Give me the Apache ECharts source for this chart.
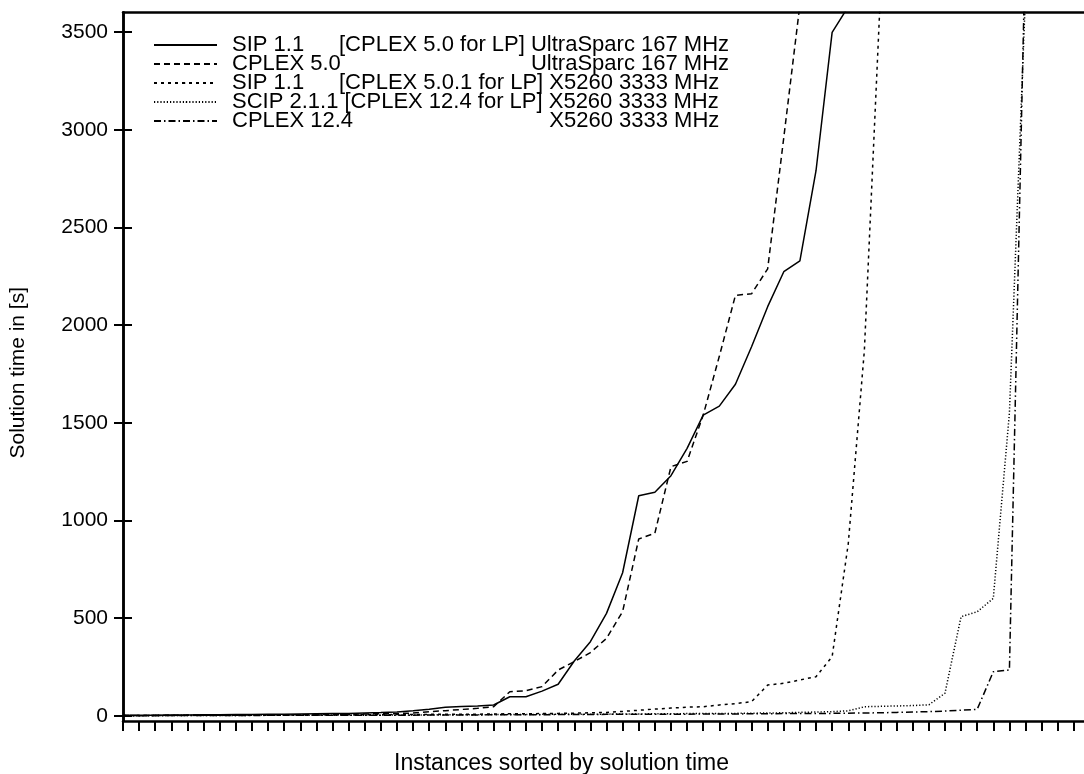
<!DOCTYPE html>
<html>
<head>
<meta charset="utf-8">
<title>Solution times</title>
<script src="https://cdn.jsdelivr.net/npm/echarts@6/dist/echarts.min.js"></script>
<style>
  html, body { margin: 0; padding: 0; background: #fff; }
  #chart { width: 1084px; height: 774px; }
</style>
</head>
<body>
<div id="chart"></div>
<script>
// solution time in seconds, instance index = position in array (each run sorted on its own)
// last value of each run is past the time limit, it only gets clipped at the top
const sip11Ultra = [2, 3, 3, 4, 4, 5, 5, 6, 6, 7, 8, 9, 10, 11, 12, 14, 16, 19, 25, 33,
  43, 47, 50, 55, 97, 97, 126, 161, 280, 379, 524, 732, 1126, 1144, 1229, 1369, 1539, 1585, 1697, 1889,
  2094, 2273, 2329, 2790, 3498, 3630]
const cplex50Ultra = [1, 1, 2, 2, 2, 3, 3, 3, 4, 4, 5, 5, 6, 7, 8, 9, 10, 11, 14, 20,
  26, 32, 38, 46, 123, 128, 149, 234, 277, 323, 396, 533, 905, 934, 1275, 1302, 1539, 1840, 2152, 2160,
  2288, 2960, 3640]
const sip11X5260 = [1, 1, 1, 1, 2, 2, 2, 2, 3, 3, 3, 4, 4, 4, 5, 5, 5, 6, 6, 7,
  7, 8, 8, 9, 10, 10, 11, 12, 13, 15, 17, 22, 28, 34, 39, 44, 46, 55, 62, 72,
  157, 166, 183, 200, 302, 880, 1870, 3700]
const scip211X5260 = [0, 0, 1, 1, 1, 1, 1, 1, 2, 2, 2, 2, 2, 3, 3, 3, 3, 4, 4, 4,
  5, 5, 5, 6, 6, 6, 7, 7, 7, 8, 8, 9, 9, 10, 10, 11, 11, 12, 12, 13,
  14, 15, 17, 19, 21, 25, 46, 48, 50, 52, 56, 115, 507, 532, 601, 1550, 3700]
const cplex124X5260 = [0, 0, 0, 1, 1, 1, 1, 1, 1, 2, 2, 2, 2, 2, 3, 3, 3, 3, 3, 4,
  4, 4, 4, 5, 5, 5, 5, 6, 6, 6, 7, 7, 7, 8, 8, 8, 9, 9, 9, 10,
  10, 11, 11, 12, 12, 13, 14, 15, 17, 19, 21, 24, 28, 33, 225, 234, 4000]

const yTicks = [0, 500, 1000, 1500, 2000, 2500, 3000, 3500]

// key text: solver part and machine part
const keyLeft = ['SIP 1.1', 'CPLEX 5.0', 'SIP 1.1', 'SCIP 2.1.1', 'CPLEX 12.4']
const keyRight = [
  '[CPLEX 5.0 for LP] UltraSparc 167 MHz',
  'UltraSparc 167 MHz',
  '[CPLEX 5.0.1 for LP] X5260 3333 MHz',
  '[CPLEX 12.4 for LP] X5260 3333 MHz',
  'X5260 3333 MHz'
]
const runs = [sip11Ultra, cplex50Ultra, sip11X5260, scip211X5260, cplex124X5260]
const dashes = ['solid', [6, 4], [3, 4], [1.2, 2], [7, 3, 1.5, 3]]

const FONT = 'Liberation Sans'
const FS = 22   // key
const TFS = 21  // tick labels + y name

// measure text so the machine column lines up like in gnuplot
const ctx = document.createElement('canvas').getContext('2d')
ctx.font = FS + 'px "' + FONT + '"'
const tw = s => ctx.measureText(s).width
const colW = 107
const leftW = i => (i === 3 ? tw(keyLeft[3] + ' ') : colW)
const fullW = [
  colW + tw(keyRight[0]),
  colW + tw(keyRight[0]),
  colW + tw(keyRight[2]),
  leftW(3) + tw(keyRight[3]),
  colW + tw(keyRight[2])
]

const names = keyLeft.map((l, i) => l + ' ' + keyRight[i])

// per-row rich styles: fixed solver column, machine column right aligned
const rich = {}
keyLeft.forEach((l, i) => {
  rich['a' + i] = { fontFamily: FONT, fontSize: FS, color: '#000', lineHeight: 18, width: leftW(i), padding: [0, 0, 0, 10] }
  rich['r' + i] = { fontFamily: FONT, fontSize: FS, color: '#000', lineHeight: 18, width: fullW[i] - leftW(i), align: 'right' }
})

const chart = echarts.init(document.getElementById('chart'))

const xBase = {
  type: 'value', min: 0, max: 60, interval: 1,
  axisLabel: { show: false },
  splitLine: { show: false }
}
const yBase = {
  type: 'value', min: -27, max: 3600,
  splitLine: { show: false },
  axisLine: { show: true, lineStyle: { color: '#000', width: 2.5 } },
  axisTick: { show: true, inside: true, length: 9, customValues: yTicks, lineStyle: { color: '#000', width: 2 } }
}

chart.setOption({
  animation: false,
  backgroundColor: '#fff',
  textStyle: { fontFamily: FONT },
  // plot box is fixed, the right edge runs past the window like in the cropped original
  grid: { left: 123, top: 12.5, width: 967, height: 708.5, outerBoundsMode: 'none' },
  xAxis: [
    Object.assign({}, xBase, {
      position: 'bottom',
      name: 'Instances sorted by solution time',
      nameLocation: 'middle',
      nameGap: 31,
      nameTextStyle: { fontSize: 23, color: '#000', fontFamily: FONT, padding: [0, 90, 0, 0] },
      axisLine: { show: true, onZero: false, lineStyle: { color: '#000', width: 2.5 } },
      axisTick: { show: true, inside: false, length: 10, lineStyle: { color: '#000', width: 2 } }
    }),
    Object.assign({}, xBase, {
      position: 'top',
      axisLine: { show: true, onZero: false, lineStyle: { color: '#000', width: 2.5 } },
      axisTick: { show: false }
    })
  ],
  yAxis: [
    Object.assign({}, yBase, {
      position: 'left',
      name: 'Solution time in [s]',
      nameLocation: 'middle',
      nameGap: 94,
      nameTextStyle: { fontSize: TFS, color: '#000', fontFamily: FONT, padding: [0, 12, 0, 0] },
      axisLabel: {
        show: true, customValues: yTicks, margin: 15, fontSize: TFS, color: '#000', fontFamily: FONT,
        formatter: v => String(v)
      }
    }),
    Object.assign({}, yBase, {
      position: 'right',
      axisLabel: { show: false }
    })
  ],
  legend: {
    orient: 'vertical',
    left: 148,
    top: 29,
    itemWidth: 63,
    itemHeight: 1,   // keeps the circle marker of line icons invisible
    itemGap: -3,
    selectedMode: false,
    data: names,
    textStyle: { fontFamily: FONT, fontSize: FS, color: '#000', lineHeight: 18, rich: rich },
    formatter: name => {
      const i = names.indexOf(name)
      return '{a' + i + '|' + keyLeft[i] + '}{r' + i + '|' + keyRight[i] + '}'
    }
  },
  series: runs.map((arr, i) => ({
    name: names[i],
    type: 'line',
    data: arr.map((v, k) => [k, v]),
    symbol: 'none',
    clip: true,
    lineStyle: { color: '#000', width: 1.5, type: dashes[i] },
    itemStyle: { color: '#000' }
  }))
})
</script>
</body>
</html>
